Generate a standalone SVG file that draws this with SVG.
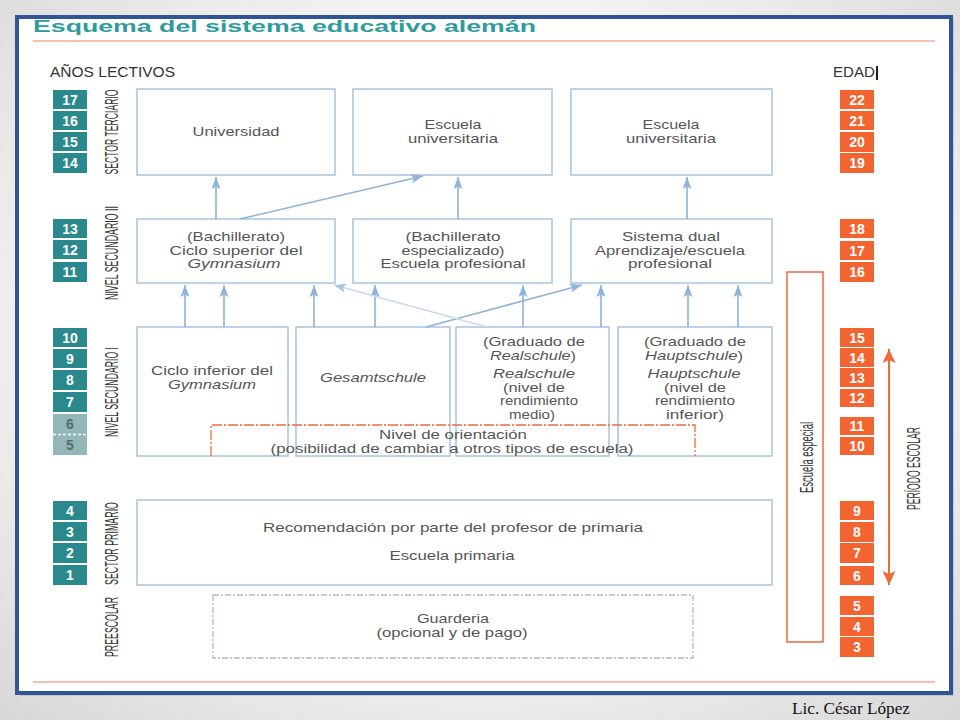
<svg xmlns="http://www.w3.org/2000/svg" width="960" height="720" viewBox="0 0 960 720">
<defs>
<radialGradient id="bg" cx="50%" cy="45%" r="75%">
<stop offset="0" stop-color="#ffffff"/>
<stop offset="0.6" stop-color="#f2f2f2"/>
<stop offset="1" stop-color="#d6d6d6"/>
</radialGradient>
<marker id="ah" viewBox="0 0 12 10" refX="12" refY="5" markerWidth="12" markerHeight="10" markerUnits="userSpaceOnUse" orient="auto">
<path d="M0,0.5 L12,5 L0,9.5 L2.5,5 z" fill="#8DB4D9"/>
</marker>
<marker id="ahl" viewBox="0 0 12 10" refX="12" refY="5" markerWidth="12" markerHeight="10" markerUnits="userSpaceOnUse" orient="auto">
<path d="M0,0.5 L12,5 L0,9.5 L2.5,5 z" fill="#A9C6E2"/>
</marker>
<marker id="oa" viewBox="0 0 14 13" refX="14" refY="6.5" markerWidth="14" markerHeight="13" markerUnits="userSpaceOnUse" orient="auto-start-reverse">
<path d="M0,0 L14,6.5 L0,13 L3,6.5 z" fill="#EE6A3A"/>
</marker>
<style>
.box{fill:#fff;stroke:#A7C4E0;stroke-width:1.5}
.t{font-family:"Liberation Sans",Arial,sans-serif;font-size:13.5px;fill:#555;text-anchor:middle}
.i{font-style:italic}
.lab{font-family:"Liberation Sans",Arial,sans-serif;font-size:18px;fill:#333;text-anchor:middle}
.tl{fill:#2A898C}
.or{fill:#F26430}
.gr{fill:#93B6BA}
.n{font-family:"Liberation Sans",Arial,sans-serif;font-size:14px;font-weight:bold;fill:#fff;text-anchor:middle}
.ng{font-family:"Liberation Sans",Arial,sans-serif;font-size:14px;font-weight:bold;fill:#5a6a6c;text-anchor:middle}
.c{fill:none;stroke:#8DB4D9;stroke-width:1.6}
</style>
</defs>
<rect width="960" height="720" fill="url(#bg)"/>
<rect x="20" y="20" width="934" height="676" fill="#b8b8b8" opacity="0.6"/>
<rect x="17" y="17" width="934" height="676" fill="#fff" stroke="#2F5597" stroke-width="4"/>
<text x="33" y="32" font-family="Liberation Sans,Arial,sans-serif" font-size="17" font-weight="bold" fill="#2E9C9C" textLength="503" lengthAdjust="spacingAndGlyphs">Esquema del sistema educativo alemán</text>
<line x1="33" y1="41" x2="935" y2="41" stroke="#E8875A" stroke-width="1.2"/>
<line x1="33" y1="682" x2="935" y2="682" stroke="#E8875A" stroke-width="1.2"/>
<text x="50" y="77" font-family="Liberation Sans,Arial,sans-serif" font-size="14" fill="#333" textLength="125" lengthAdjust="spacingAndGlyphs">AÑOS LECTIVOS</text>
<text x="833" y="77" font-family="Liberation Sans,Arial,sans-serif" font-size="14" fill="#333" textLength="42" lengthAdjust="spacingAndGlyphs">EDAD</text>
<rect x="876" y="66" width="2" height="14" fill="#222"/>

<g id="years">
<rect class="tl" x="53" y="90" width="34" height="19"/><text class="n" x="70" y="104.5">17</text>
<rect class="tl" x="53" y="111" width="34" height="19"/><text class="n" x="70" y="125.5">16</text>
<rect class="tl" x="53" y="132" width="34" height="19"/><text class="n" x="70" y="146.5">15</text>
<rect class="tl" x="53" y="153" width="34" height="20"/><text class="n" x="70" y="168">14</text>
<rect class="tl" x="53" y="219" width="34" height="19"/><text class="n" x="70" y="233.5">13</text>
<rect class="tl" x="53" y="240" width="34" height="19"/><text class="n" x="70" y="254.5">12</text>
<rect class="tl" x="53" y="262" width="34" height="20"/><text class="n" x="70" y="277">11</text>
<rect class="tl" x="53" y="328" width="34" height="19"/><text class="n" x="70" y="342.5">10</text>
<rect class="tl" x="53" y="349" width="34" height="19"/><text class="n" x="70" y="363.5">9</text>
<rect class="tl" x="53" y="370" width="34" height="20"/><text class="n" x="70" y="385">8</text>
<rect class="tl" x="53" y="392" width="34" height="20"/><text class="n" x="70" y="407">7</text>
<rect class="gr" x="53" y="414" width="34" height="41"/>
<line x1="53" y1="434.5" x2="87" y2="434.5" stroke="#fff" stroke-width="1.5" stroke-dasharray="3 2"/>
<text class="ng" x="70" y="429">6</text>
<text class="ng" x="70" y="450">5</text>
<rect class="tl" x="53" y="501" width="34" height="19"/><text class="n" x="70" y="515.5">4</text>
<rect class="tl" x="53" y="522" width="34" height="19"/><text class="n" x="70" y="536.5">3</text>
<rect class="tl" x="53" y="543" width="34" height="20"/><text class="n" x="70" y="558">2</text>
<rect class="tl" x="53" y="565" width="34" height="20"/><text class="n" x="70" y="580">1</text>
</g>

<g id="ages">
<rect class="or" x="840" y="90" width="34" height="19"/><text class="n" x="857" y="104.5">22</text>
<rect class="or" x="840" y="111" width="34" height="19"/><text class="n" x="857" y="125.5">21</text>
<rect class="or" x="840" y="132" width="34" height="20"/><text class="n" x="857" y="147">20</text>
<rect class="or" x="840" y="153" width="34" height="20"/><text class="n" x="857" y="168">19</text>
<rect class="or" x="840" y="219" width="34" height="19"/><text class="n" x="857" y="233.5">18</text>
<rect class="or" x="840" y="241" width="34" height="19"/><text class="n" x="857" y="255.5">17</text>
<rect class="or" x="840" y="262" width="34" height="20"/><text class="n" x="857" y="277">16</text>
<rect class="or" x="840" y="328" width="34" height="19"/><text class="n" x="857" y="342.5">15</text>
<rect class="or" x="840" y="348" width="34" height="19"/><text class="n" x="857" y="362.5">14</text>
<rect class="or" x="840" y="368" width="34" height="19"/><text class="n" x="857" y="382.5">13</text>
<rect class="or" x="840" y="389" width="34" height="18"/><text class="n" x="857" y="403">12</text>
<rect class="or" x="840" y="417" width="34" height="18"/><text class="n" x="857" y="431">11</text>
<rect class="or" x="840" y="437" width="34" height="18"/><text class="n" x="857" y="451">10</text>
<rect class="or" x="840" y="501" width="34" height="19"/><text class="n" x="857" y="515.5">9</text>
<rect class="or" x="840" y="522" width="34" height="20"/><text class="n" x="857" y="537">8</text>
<rect class="or" x="840" y="543" width="34" height="20"/><text class="n" x="857" y="558">7</text>
<rect class="or" x="840" y="566" width="34" height="19"/><text class="n" x="857" y="580.5">6</text>
<rect class="or" x="840" y="596" width="34" height="19"/><text class="n" x="857" y="610.5">5</text>
<rect class="or" x="840" y="617" width="34" height="19"/><text class="n" x="857" y="631.5">4</text>
<rect class="or" x="840" y="637" width="34" height="20"/><text class="n" x="857" y="652">3</text>
</g>

<g id="section-labels">
<text class="lab" transform="translate(118,132) rotate(-90)" textLength="85" lengthAdjust="spacingAndGlyphs">SECTOR TERCIARIO</text>
<text class="lab" transform="translate(118,253) rotate(-90)" textLength="94" lengthAdjust="spacingAndGlyphs">NIVEL SECUNDARIO II</text>
<text class="lab" transform="translate(118,392) rotate(-90)" textLength="90" lengthAdjust="spacingAndGlyphs">NIVEL SECUNDARIO I</text>
<text class="lab" transform="translate(118,543.5) rotate(-90)" textLength="83" lengthAdjust="spacingAndGlyphs">SECTOR PRIMARIO</text>
<text class="lab" transform="translate(118,627) rotate(-90)" textLength="60" lengthAdjust="spacingAndGlyphs">PREESCOLAR</text>
<text class="lab" transform="translate(920,468.5) rotate(-90)" textLength="83" lengthAdjust="spacingAndGlyphs">PERÍODO ESCOLAR</text>
</g>

<g id="universidad">
<rect class="box" x="137" y="89" width="198" height="86"/>
<text class="t" x="236" y="136" textLength="87" lengthAdjust="spacingAndGlyphs">Universidad</text>
</g>
<g id="escuela-universitaria-1">
<rect class="box" x="353" y="89" width="199" height="86"/>
<text class="t" x="453" y="129" textLength="57" lengthAdjust="spacingAndGlyphs">Escuela</text>
<text class="t" x="453" y="143" textLength="90" lengthAdjust="spacingAndGlyphs">universitaria</text>
</g>
<g id="escuela-universitaria-2">
<rect class="box" x="571" y="89" width="201" height="86"/>
<text class="t" x="671" y="129" textLength="57" lengthAdjust="spacingAndGlyphs">Escuela</text>
<text class="t" x="671" y="143" textLength="90" lengthAdjust="spacingAndGlyphs">universitaria</text>
</g>

<g id="bachillerato">
<rect class="box" x="137" y="219" width="198" height="64"/>
<text class="t" x="236" y="241" textLength="98" lengthAdjust="spacingAndGlyphs">(Bachillerato)</text>
<text class="t" x="236" y="254.5" textLength="133" lengthAdjust="spacingAndGlyphs">Ciclo superior del</text>
<text class="t i" x="234" y="268" textLength="93" lengthAdjust="spacingAndGlyphs">Gymnasium</text>
</g>
<g id="bachillerato-especializado">
<rect class="box" x="353" y="219" width="199" height="64"/>
<text class="t" x="453" y="241" textLength="95" lengthAdjust="spacingAndGlyphs">(Bachillerato</text>
<text class="t" x="453" y="254.5" textLength="103" lengthAdjust="spacingAndGlyphs">especializado)</text>
<text class="t" x="453" y="268" textLength="145" lengthAdjust="spacingAndGlyphs">Escuela profesional</text>
</g>
<g id="sistema-dual">
<rect class="box" x="571" y="219" width="201" height="64"/>
<text class="t" x="671" y="241" textLength="98" lengthAdjust="spacingAndGlyphs">Sistema dual</text>
<text class="t" x="670" y="254.5" textLength="150" lengthAdjust="spacingAndGlyphs">Aprendizaje/escuela</text>
<text class="t" x="670" y="268" textLength="84" lengthAdjust="spacingAndGlyphs">profesional</text>
</g>

<g id="ciclo-inferior">
<rect class="box" x="137" y="327" width="151" height="129"/>
<text class="t" x="212" y="375" textLength="122" lengthAdjust="spacingAndGlyphs">Ciclo inferior del</text>
<text class="t i" x="212" y="389" textLength="88" lengthAdjust="spacingAndGlyphs">Gymnasium</text>
</g>
<g id="gesamtschule">
<rect class="box" x="296" y="327" width="154" height="129"/>
<text class="t i" x="373" y="382" textLength="106" lengthAdjust="spacingAndGlyphs">Gesamtschule</text>
</g>
<g id="realschule">
<rect class="box" x="456" y="327" width="153" height="129"/>
<text class="t" x="534" y="346" textLength="102" lengthAdjust="spacingAndGlyphs">(Graduado de</text>
<text class="t" x="533" y="359.5" textLength="86" lengthAdjust="spacingAndGlyphs"><tspan class="i">Realschule</tspan>)</text>
<text class="t i" x="534" y="377.5" textLength="82" lengthAdjust="spacingAndGlyphs">Realschule</text>
<text class="t" x="534" y="391.5" textLength="62" lengthAdjust="spacingAndGlyphs">(nivel de</text>
<text class="t" x="539" y="405" textLength="78" lengthAdjust="spacingAndGlyphs">rendimiento</text>
<text class="t" x="532" y="418.5" textLength="46" lengthAdjust="spacingAndGlyphs">medio)</text>
</g>
<g id="hauptschule">
<rect class="box" x="618" y="327" width="154" height="129"/>
<text class="t" x="695" y="346" textLength="102" lengthAdjust="spacingAndGlyphs">(Graduado de</text>
<text class="t" x="694" y="359.5" textLength="98" lengthAdjust="spacingAndGlyphs"><tspan class="i">Hauptschule</tspan>)</text>
<text class="t i" x="694" y="377.5" textLength="93" lengthAdjust="spacingAndGlyphs">Hauptschule</text>
<text class="t" x="695" y="391.5" textLength="62" lengthAdjust="spacingAndGlyphs">(nivel de</text>
<text class="t" x="695" y="405" textLength="80" lengthAdjust="spacingAndGlyphs">rendimiento</text>
<text class="t" x="695" y="418.5" textLength="58" lengthAdjust="spacingAndGlyphs">inferior)</text>
</g>

<g id="nivel-orientacion">
<path d="M211,456 V425 H695 V456" fill="none" stroke="#EE6A3A" stroke-width="1.3" stroke-dasharray="10 2 2 2"/>
<text class="t" x="453" y="438.5" textLength="148" lengthAdjust="spacingAndGlyphs">Nivel de orientación</text>
<text class="t" x="452" y="452.5" textLength="363" lengthAdjust="spacingAndGlyphs">(posibilidad de cambiar a otros tipos de escuela)</text>
</g>

<g id="escuela-primaria">
<rect class="box" x="137" y="500" width="635" height="85"/>
<text class="t" x="453" y="532" textLength="380" lengthAdjust="spacingAndGlyphs">Recomendación por parte del profesor de primaria</text>
<text class="t" x="452" y="560" textLength="125" lengthAdjust="spacingAndGlyphs">Escuela primaria</text>
</g>

<g id="guarderia">
<rect x="213" y="595" width="480" height="63" fill="none" stroke="#A8BCD0" stroke-width="1.3" stroke-dasharray="6 2 2 2"/>
<text class="t" x="453" y="623" textLength="72" lengthAdjust="spacingAndGlyphs">Guarderia</text>
<text class="t" x="452" y="636.5" textLength="151" lengthAdjust="spacingAndGlyphs">(opcional y de pago)</text>
</g>

<g id="escuela-especial">
<rect x="787" y="272" width="36" height="370" fill="none" stroke="#EE6A3A" stroke-width="1.5"/>
<text transform="translate(813,457.5) rotate(-90)" font-family="Liberation Sans,Arial,sans-serif" font-size="18" fill="#333" text-anchor="middle" textLength="71" lengthAdjust="spacingAndGlyphs">Escuela especial</text>
</g>

<g id="connectors">
<path class="c" d="M216,219 V177" marker-end="url(#ah)"/>
<path class="c" d="M240,219 L423,176" marker-end="url(#ah)"/>
<path class="c" d="M458,219 V177" marker-end="url(#ah)"/>
<path class="c" d="M687,219 V177" marker-end="url(#ah)"/>
<path class="c" d="M185,327 V285" marker-end="url(#ah)"/>
<path class="c" d="M224,327 V285" marker-end="url(#ah)"/>
<path class="c" d="M314,327 V285" marker-end="url(#ah)"/>
<path class="c" d="M375,327 V285" marker-end="url(#ah)"/>
<path class="c" d="M523,327 V285" marker-end="url(#ah)"/>
<path class="c" d="M601,327 V285" marker-end="url(#ah)"/>
<path class="c" d="M688,327 V285" marker-end="url(#ah)"/>
<path class="c" d="M738,327 V285" marker-end="url(#ah)"/>
<path class="c" d="M426,327 L582,285" marker-end="url(#ah)"/>
<path d="M487,327 L334,285" fill="none" stroke="#C9DAEB" stroke-width="1.3" marker-end="url(#ahl)"/>
<path d="M889,349 V585" fill="none" stroke="#EE6A3A" stroke-width="2" marker-start="url(#oa)" marker-end="url(#oa)"/>
</g>

<text x="792" y="714" font-family="Liberation Serif,Times New Roman,serif" font-size="16" fill="#111" textLength="118" lengthAdjust="spacingAndGlyphs">Lic. César López</text>
</svg>
